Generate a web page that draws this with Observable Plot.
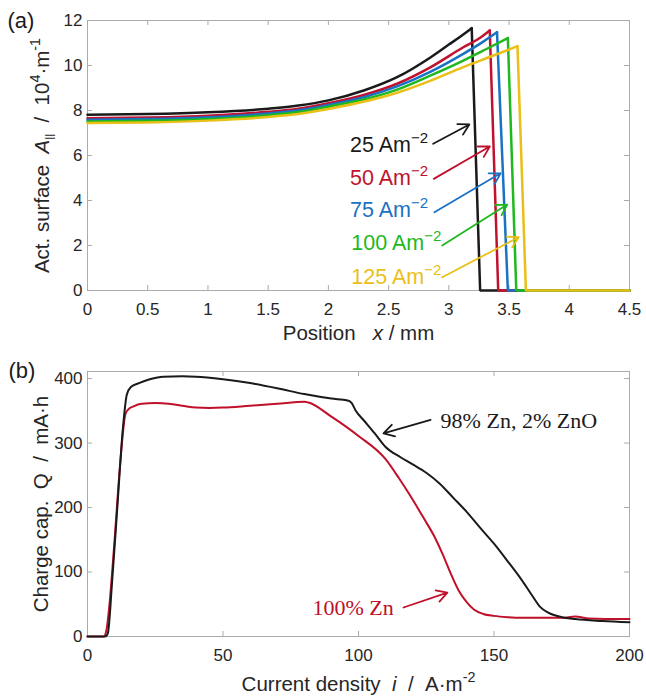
<!DOCTYPE html>
<html><head><meta charset="utf-8">
<script src="https://cdn.jsdelivr.net/npm/d3@7"></script>
<script src="https://cdn.jsdelivr.net/npm/@observablehq/plot@0.6"></script>
<style>body{margin:0;background:#fff} svg{display:block}</style>
</head><body><div id="chart"></div>
<script>
// ---------- Panel (a): active surface vs position ----------
const curve25  = [[0,7.81],[0.5,7.84],[1,7.92],[1.5,8.08],[1.75,8.22],[2,8.45],[2.3,8.9],[2.57,9.48],[2.85,10.37],[3.0,10.93],[3.1,11.3],[3.19,11.66],[3.26,0],[4.5,0]];
const curve50  = [[0,7.66],[0.5,7.69],[1,7.77],[1.5,7.94],[1.75,8.08],[2,8.32],[2.3,8.7],[2.57,9.19],[2.85,9.93],[3.12,10.81],[3.25,11.2],[3.34,11.56],[3.41,0],[4.5,0]];
const curve75  = [[0,7.59],[0.5,7.62],[1,7.70],[1.5,7.87],[1.75,8.01],[2,8.25],[2.3,8.6],[2.57,9.07],[2.85,9.73],[3.12,10.52],[3.28,11.04],[3.40,11.48],[3.49,0],[4.5,0]];
const curve100 = [[0,7.51],[0.5,7.54],[1,7.62],[1.5,7.79],[1.75,7.93],[2,8.17],[2.3,8.5],[2.57,8.93],[2.85,9.56],[3.12,10.22],[3.3,10.7],[3.49,11.22],[3.56,0],[4.5,0]];
const curve125 = [[0,7.44],[0.5,7.47],[1,7.55],[1.5,7.71],[1.75,7.84],[2,8.07],[2.3,8.4],[2.57,8.79],[2.85,9.33],[3.12,9.93],[3.35,10.4],[3.57,10.86],[3.64,0],[4.5,0]];
const colorsA = ["#1a1a1a","#c0122e","#1a72c4","#1fb81f","#eabf18"];
const labelsA = ["25 Am^{−2}","50 Am^{−2}","75 Am^{−2}","100 Am^{−2}","125 Am^{−2}"];
const labelAX = [2.18,2.18,2.18,2.19,2.19];
const labelAY = [6.15,4.70,3.26,1.78,0.30];
const arrowA = [[2.87,6.52,3.17,7.38],[2.875,4.96,3.34,6.40],[2.88,3.48,3.43,5.21],[2.945,2.0,3.485,3.82],[2.945,0.59,3.58,2.37]];
const xTicksA = [0,0.5,1,1.5,2,2.5,3,3.5,4,4.5];
const yTicksA = [0,2,4,6,8,10,12];

// ---------- Panel (b): charge capacity vs current density ----------
const capZnO = [[0,0],[6.5,0],[7.5,5],[9,80],[11,200],[13,320],[14.5,375],[16,387],[19,393],[23,399],[28,403],[35,403.5],[40,403],[50,399],[60,393],[70,385],[80,376],[90,369],[96,366],[97.5,362],[99,350],[102,335],[106,315],[110,294],[115.5,278],[120,267],[125,254],[130,237],[135,215],[140,193],[145,168],[150,144],[155,117],[160,89],[164,64],[167,46],[170,37],[175,30],[180,27],[190,24],[200,22]];
const capZn  = [[0,0],[6,0],[7,10],[8,45],[10,150],[12,265],[14,345],[15,352],[17,357],[20,361],[25,362],[30,361],[35,358],[40,355],[45,354.5],[50,355],[60,358],[70,361],[80,364],[81.5,363],[90,341],[100,311],[110,275],[115,245],[119,219],[124,184],[128,155],[131,128],[134,98],[137,71],[140,53],[142.6,42],[146,35],[150,32],[155,30],[160,29],[175,29],[180,31],[185,28],[200,27]];
const colorsB = ["#1a1a1a","#c0102a"];
const labelsB = ["98% Zn, 2% ZnO","100% Zn"];
const labelBX = [130.3,83.0];
const labelBY = [323,32.6];
const arrowB = [[126.6,336,109.2,315],[116.6,45,132.8,68]];
const xTicksB = [0,50,100,150,200];
const yTicksB = [0,100,200,300,400];

// ---------- helpers ----------
const W = 646, ML = 87, MR = 17;
const GRAY = "#ababab";
const style = {fontFamily: "'Liberation Sans', Arial, sans-serif", fontSize: "17px", color: "#262626", background: "white", overflow: "visible"};

function boxTicks(xt, yt, fw, fh) {
  return [
    Plot.tickX(xt, {x: d => d, insetTop: fh - 5, stroke: GRAY}),
    Plot.tickX(xt, {x: d => d, insetBottom: fh - 5, stroke: GRAY}),
    Plot.tickY(yt, {y: d => d, insetRight: fw - 5, stroke: GRAY}),
    Plot.tickY(yt, {y: d => d, insetLeft: fw - 5, stroke: GRAY})
  ];
}
function rows(arr) { return arr.map(([x, y]) => ({x, y})); }
function peakIndex(arr) { let k = 0; arr.forEach((p, i) => { if (p[1] > arr[k][1]) k = i; }); return k; }

function parse(s) {
  const out = []; let i = 0, buf = "", italic = false;
  while (i < s.length) {
    const c = s[i];
    if ((c === "^" || c === "_") && s[i + 1] === "{") {
      if (buf) out.push({t: buf, italic, mode: "n"}); buf = "";
      const j = s.indexOf("}", i);
      out.push({t: s.slice(i + 2, j), italic, mode: c === "^" ? "sup" : "sub"});
      i = j + 1;
    } else if (c === "*") {
      if (buf) out.push({t: buf, italic, mode: "n"}); buf = "";
      italic = !italic; i++;
    } else { buf += c; i++; }
  }
  if (buf) out.push({t: buf, italic, mode: "n"});
  return out;
}
function richify(svg) {
  d3.select(svg).selectAll("text").each(function () {
    const s = this.textContent;
    if (!/[\^_*]/.test(s)) return;
    const fs = parseFloat(getComputedStyle(this).fontSize);
    const segs = parse(s);
    const sel = d3.select(this); sel.text(null);
    let cur = 0;
    for (const g of segs) {
      const target = g.mode === "sup" ? -0.42 * fs : g.mode === "sub" ? 0.22 * fs : 0;
      const ts = sel.append("tspan").text(g.t);
      if (target !== cur) ts.attr("dy", (target - cur) + "px");
      cur = target;
      if (g.mode === "sup") ts.attr("font-size", (0.7 * fs) + "px");
      if (g.mode === "sub") ts.attr("font-size", (0.55 * fs) + "px");
      if (g.italic) ts.attr("font-style", "italic");
    }
  });
}

// ---------- Panel (a) ----------
const curvesA = [curve25, curve50, curve75, curve100, curve125];
const fwA = W - ML - MR, fhA = 340 - 20 - 50;
const lineMarksA = curvesA.flatMap((c, i) => {
  const k = peakIndex(c);
  return [
    Plot.line(rows(c.slice(0, k + 1)), {x: "x", y: "y", stroke: colorsA[i], strokeWidth: 2.5, curve: "monotone-x"}),
    Plot.line(rows(c.slice(k)), {x: "x", y: "y", stroke: colorsA[i], strokeWidth: 2.5, strokeLinejoin: "miter"})
  ];
});
const plotA = Plot.plot({
  width: W, height: 340, marginLeft: ML, marginRight: MR, marginTop: 20, marginBottom: 50,
  x: {domain: [0, 4.5]}, y: {domain: [0, 12]},
  style,
  marks: [
    Plot.frame({stroke: GRAY}),
    ...boxTicks(xTicksA, yTicksA, fwA, fhA),
    Plot.axisX({ticks: xTicksA, tickSize: 0, tickPadding: 12, label: null, tickFormat: d => String(d)}),
    Plot.axisY({ticks: yTicksA, tickSize: 0, tickPadding: 5, label: null, tickFormat: d => String(d)}),
    ...lineMarksA,
    ...arrowA.map((a, i) => Plot.arrow([a], {x1: d => d[0], y1: d => d[1], x2: d => d[2], y2: d => d[3], stroke: colorsA[i], strokeWidth: 1.8, headLength: 10})),
    ...labelsA.map((t, i) => Plot.text([t], {x: labelAX[i], y: labelAY[i], text: d => d, fill: colorsA[i], fontSize: 21.5, textAnchor: "start", lineAnchor: "bottom"})),
    Plot.text(["Position\u00a0\u00a0\u00a0*x* / mm"], {frameAnchor: "bottom", lineAnchor: "bottom", dy: 49, fontSize: 20.5, text: d => d, fill: "#262626"}),
    Plot.text(["Act. surface\u00a0\u00a0*A*_{||}\u00a0\u00a0/\u00a0\u00a010^{4}·m^{-1}"], {frameAnchor: "left", rotate: -90, textAnchor: "middle", lineAnchor: "bottom", dx: -39, fontSize: 20.5, text: d => d, fill: "#262626"}),
    Plot.text(["(a)"], {frameAnchor: "top-left", textAnchor: "start", lineAnchor: "bottom", dx: -80, dy: 7, fontSize: 22, text: d => d, fill: "#1a1a1a"})
  ]
});

// ---------- Panel (b) ----------
const curvesB = [capZnO, capZn];
const fwB = W - ML - MR, fhB = 359 - 31 - 63;
const plotB = Plot.plot({
  width: W, height: 359, marginLeft: ML, marginRight: MR, marginTop: 31, marginBottom: 63,
  x: {domain: [0, 200]}, y: {domain: [0, 411]},
  style,
  marks: [
    Plot.frame({stroke: GRAY}),
    ...boxTicks(xTicksB, yTicksB, fwB, fhB),
    Plot.axisX({ticks: xTicksB, tickSize: 0, tickPadding: 12, label: null, tickFormat: d => String(d)}),
    Plot.axisY({ticks: yTicksB, tickSize: 0, tickPadding: 5, label: null, tickFormat: d => String(d)}),
    ...curvesB.map((c, i) => Plot.line(rows(c), {x: "x", y: "y", stroke: colorsB[i], strokeWidth: 2, curve: "monotone-x"})).reverse(),
    ...arrowB.map((a, i) => Plot.arrow([a], {x1: d => d[0], y1: d => d[1], x2: d => d[2], y2: d => d[3], stroke: colorsB[i], strokeWidth: 1.8, headLength: 10})),
    ...labelsB.map((t, i) => Plot.text([t], {x: labelBX[i], y: labelBY[i], text: d => d, fill: colorsB[i], fontSize: 22, fontFamily: "'Liberation Serif', Cambria, serif", textAnchor: "start", lineAnchor: "bottom"})),
    Plot.text(["Current density\u00a0\u00a0*i*\u00a0\u00a0/\u00a0\u00a0A·m^{-2}"], {frameAnchor: "bottom", lineAnchor: "bottom", dy: 54, fontSize: 20.5, text: d => d, fill: "#262626"}),
    Plot.text(["Charge cap.\u00a0\u00a0Q\u00a0\u00a0/\u00a0\u00a0mA·h"], {frameAnchor: "left", rotate: -90, textAnchor: "middle", lineAnchor: "bottom", dx: -40, fontSize: 20.5, text: d => d, fill: "#262626"}),
    Plot.text(["(b)"], {frameAnchor: "top-left", textAnchor: "start", lineAnchor: "bottom", dx: -79, dy: 6, fontSize: 22, text: d => d, fill: "#1a1a1a"})
  ]
});

const root = document.getElementById("chart");
root.append(plotA, plotB);
richify(plotA); richify(plotB);
</script></body></html>
